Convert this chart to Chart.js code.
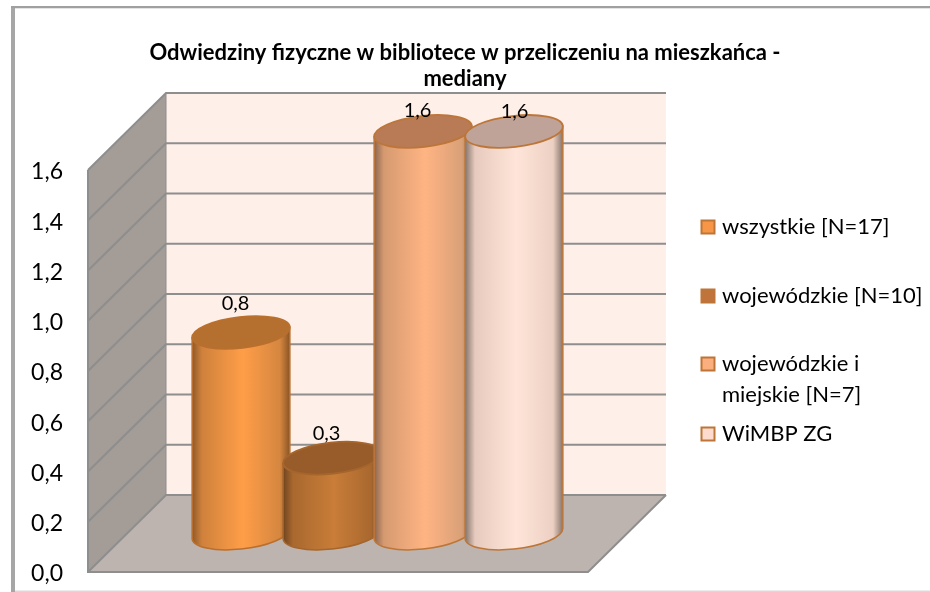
<!DOCTYPE html>
<html lang="pl">
<head>
<meta charset="utf-8">
<title>Odwiedziny fizyczne</title>
<script src="https://cdn.jsdelivr.net/npm/chart.js@4"></script>
<style>
html,body{margin:0;padding:0;background:#fff;}
#wrap{position:relative;width:930px;height:592px;}
canvas{display:block;}
</style>
</head>
<body>
<div id="wrap"><canvas id="c" width="930" height="592"></canvas></div>
<script>
const categories = ['mediana'];
const seriesNames = ['wszystkie [N=17]', 'wojewódzkie [N=10]', ['wojewódzkie i', 'miejskie [N=7]'], 'WiMBP ZG'];
const wszystkie = [0.8];
const wojewodzkie = [0.3];
const wojewodzkieMiejskie = [1.6];
const wimbp = [1.6];
const titleLines = ['Odwiedziny fizyczne w bibliotece w przeliczeniu na mieszkańca -', 'mediany'];

const FONT = 'Lato, Carlito, Calibri, sans-serif';
const DEPTH_X = 78, DEPTH_Y = 77;
const styles = [
  {swatch:'#f79646', top:'#b5702f', stroke:'#b96f2e', grad:['#8f5a28','#cf813c','#ff9e48','#d58640','#8a5524']},
  {swatch:'#c0733a', top:'#985c2a', stroke:'#a5652c', grad:['#6f4520','#a9682f','#c97d38','#a9682f','#6f4520']},
  {swatch:'#fcaf7e', top:'#b97b56', stroke:'#bd7638', grad:['#8a6650','#d69a70','#ffb483','#d9a078','#8a6650']},
  {swatch:'#fddccf', top:'#bfa398', stroke:'#bd7638', grad:['#85746c','#e6cabd','#ffe5d9','#ecd0c3','#85746c']}
];
const labelNudge = [[-5,-29],[-5,-25],[-5,-21],[1,-20]];
const legendRows = [227, 296, 364, 434];

function fmt(v){ return v.toFixed(1).replace('.', ','); }

const scene = {
  id:'scene',
  beforeDraw(chart){
    const c = chart.ctx;
    c.save();
    c.fillStyle = '#d9d9d9'; c.fillRect(11,590.5,919,1.5);
    c.fillStyle = '#a6a6a6'; c.fillRect(11,7,4,585);
    c.fillStyle = '#a0a0a0'; c.fillRect(11,6,919,2);
    c.fillStyle = '#e4e4e4'; c.fillRect(15,8,915,1);
    c.restore();
  },
  beforeDatasetsDraw(chart){
    const c = chart.ctx, y = chart.scales.y, a = chart.chartArea;
    const y0 = y.getPixelForValue(y.min), y1 = y.getPixelForValue(y.max);
    const L = a.left, R = a.right;
    c.save();
    c.fillStyle = '#feefe8';
    c.fillRect(L+DEPTH_X, y1-DEPTH_Y, R-L, y0-y1);
    c.fillStyle = '#a39c97';
    c.beginPath(); c.moveTo(L,y1); c.lineTo(L+DEPTH_X,y1-DEPTH_Y); c.lineTo(L+DEPTH_X,y0-DEPTH_Y); c.lineTo(L,y0); c.closePath(); c.fill();
    c.fillStyle = '#bdb4b0';
    c.beginPath(); c.moveTo(L,y0); c.lineTo(L+DEPTH_X,y0-DEPTH_Y); c.lineTo(R+DEPTH_X,y0-DEPTH_Y); c.lineTo(R,y0); c.closePath(); c.fill();
    c.strokeStyle = '#8e8e8e'; c.lineWidth = 2;
    y.ticks.forEach(t=>{
      const p = y.getPixelForValue(t.value);
      c.beginPath(); c.moveTo(L,p); c.lineTo(L+DEPTH_X,p-DEPTH_Y); c.lineTo(R+DEPTH_X,p-DEPTH_Y); c.stroke();
    });
    c.lineWidth = 2;
    c.beginPath(); c.moveTo(L,y1); c.lineTo(L,y0); c.lineTo(R,y0); c.lineTo(R+DEPTH_X,y0-DEPTH_Y); c.stroke();
    c.lineWidth = 1;
    c.strokeStyle = '#8e8e8e';
    c.beginPath(); c.moveTo(L+DEPTH_X,y1-DEPTH_Y); c.lineTo(L+DEPTH_X,y0-DEPTH_Y); c.stroke();
    c.restore();
  },
  beforeDatasetDraw(){ return false; },
  afterDatasetsDraw(chart){
    const c = chart.ctx;
    const theta = -6.5*Math.PI/180;
    chart.data.datasets.forEach((ds,i)=>{
      const el = chart.getDatasetMeta(i).data[0];
      const st = styles[i];
      const a = el.width*0.54, b = 15.5;
      const cx = el.x + DEPTH_X/2 + 0.5, top = el.y - DEPTH_Y/2, base = el.base - DEPTH_Y/2;
      const t0 = Math.atan2(-b*Math.sin(theta), a*Math.cos(theta));
      const hw = a*Math.cos(t0)*Math.cos(theta) - b*Math.sin(t0)*Math.sin(theta);
      const dy = a*Math.cos(t0)*Math.sin(theta) + b*Math.sin(t0)*Math.cos(theta);
      const g = c.createLinearGradient(cx-hw,0,cx+hw,0);
      [0,0.1,0.52,0.9,1].forEach((p,k)=>g.addColorStop(p,st.grad[k]));
      c.save();
      c.fillStyle = g; c.strokeStyle = st.stroke; c.lineWidth = 1.5;
      c.beginPath();
      c.ellipse(cx,base,a,b,theta,t0,t0+Math.PI);
      c.lineTo(cx-hw, top-dy);
      c.lineTo(cx+hw, top+dy);
      c.closePath(); c.fill(); c.stroke();
      c.fillStyle = st.top; c.lineWidth = 1.8;
      c.beginPath(); c.ellipse(cx,top,a,b,theta,0,Math.PI*2); c.closePath(); c.fill(); c.stroke();
      c.restore();
    });
    c.save();
    c.fillStyle = '#000'; c.font = '20px '+FONT; c.textAlign='center'; c.textBaseline='middle';
    chart.data.datasets.forEach((ds,i)=>{
      const el = chart.getDatasetMeta(i).data[0];
      c.fillText(fmt(ds.data[0]), el.x+DEPTH_X/2+labelNudge[i][0], el.y-DEPTH_Y/2+labelNudge[i][1]);
    });
    c.restore();
  },
  afterDraw(chart){
    const c = chart.ctx;
    c.save();
    c.font = '22px '+FONT; c.textBaseline='middle'; c.textAlign='left';
    seriesNames.forEach((n,i)=>{
      const r = legendRows[i];
      c.fillStyle = styles[i].swatch; c.strokeStyle = '#bd7638'; c.lineWidth = 2;
      c.fillRect(701.5,r-6.5,13,13); c.strokeRect(701.5,r-6.5,13,13);
      c.fillStyle = '#000';
      const lines = Array.isArray(n) ? n : [n];
      lines.forEach((t,k)=>c.fillText(t,722,r+k*31));
    });
    c.restore();
  }
};

new Chart(document.getElementById('c'),{
  type:'bar',
  data:{
    labels:categories,
    datasets:[
      {label:'wszystkie [N=17]',data:wszystkie,backgroundColor:styles[0].swatch},
      {label:'wojewódzkie [N=10]',data:wojewodzkie,backgroundColor:styles[1].swatch},
      {label:'wojewódzkie i miejskie [N=7]',data:wojewodzkieMiejskie,backgroundColor:styles[2].swatch},
      {label:'WiMBP ZG',data:wimbp,backgroundColor:styles[3].swatch}
    ]
  },
  options:{
    responsive:false,
    animation:false,
    layout:{autoPadding:false,padding:{left:0,right:0,top:0,bottom:20}},
    datasets:{bar:{categoryPercentage:0.728,barPercentage:1}},
    plugins:{
      legend:{display:false},
      tooltip:{enabled:false},
      title:{display:true,text:titleLines,color:'#000',
        font:{family:FONT,size:22,weight:'bold',lineHeight:1.18},
        padding:{top:40,bottom:78}}
    },
    scales:{
      x:{display:false},
      y:{min:0,max:1.6,position:'left',
        afterFit(s){s.width=88;s.paddingTop=0;s.paddingBottom=0;},
        grid:{display:false},border:{display:false},
        ticks:{stepSize:0.2,padding:17,labelOffset:2,color:'#000',
          font:{family:FONT,size:23},
          callback:v=>fmt(v)}},
      spacer:{position:'right',
        afterFit(s){s.width=342;s.paddingTop=0;s.paddingBottom=0;},
        grid:{display:false},border:{display:false},ticks:{display:false}}
    }
  },
  plugins:[scene]
});
</script>
</body>
</html>
